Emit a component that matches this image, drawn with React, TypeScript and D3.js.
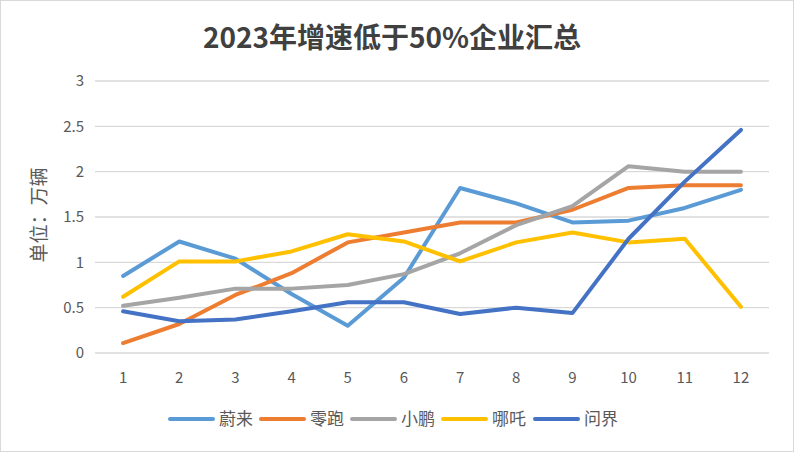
import React from "react";
import * as d3 from "d3";

const months = ["1", "2", "3", "4", "5", "6", "7", "8", "9", "10", "11", "12"];
const nio = [0.85, 1.23, 1.04, 0.65, 0.3, 0.83, 1.82, 1.65, 1.44, 1.46, 1.6, 1.8];
const leap = [0.11, 0.32, 0.64, 0.88, 1.22, 1.33, 1.44, 1.44, 1.58, 1.82, 1.85, 1.85];
const xpeng = [0.52, 0.61, 0.71, 0.71, 0.75, 0.87, 1.1, 1.41, 1.62, 2.06, 2.0, 2.0];
const neta = [0.62, 1.01, 1.01, 1.12, 1.31, 1.23, 1.01, 1.22, 1.33, 1.22, 1.26, 0.51];
const aito = [0.46, 0.35, 0.37, 0.46, 0.56, 0.56, 0.43, 0.5, 0.44, 1.26, 1.89, 2.46];
const seriesNames = ["蔚来", "零跑", "小鹏", "哪吒", "问界"];
const yTicks = [0, 0.5, 1, 1.5, 2, 2.5, 3];
const title = "2023年增速低于50%企业汇总";
const yTitle = "单位：万辆";

const colors = ["#5B9BD5", "#ED7D31", "#A5A5A5", "#FFC000", "#4472C4"];
const allSeries = [nio, leap, xpeng, neta, aito];

export default function App() {
  const W = 794, H = 452;
  const left = 95, right = 769, top = 81, bottom = 353;
  const x = d3.scaleBand().domain(months).range([left, right]);
  const y = d3.scaleLinear().domain([0, 3]).range([bottom, top]);
  const line = d3
    .line<number>()
    .x((_, i) => (x(months[i]) as number) + x.bandwidth() / 2)
    .y((d) => y(d));
  const font = "'Noto Sans CJK SC', 'Noto Sans', sans-serif";
  const legendLineX = [170, 261, 352, 443, 535];
  const legendY = 419;
  return (
    <svg
      width={W}
      height={H}
      style={{ position: "absolute", left: 0, top: 0, display: "block" }}
      fontFamily={font}
    >
      <rect x={0.5} y={0.5} width={W - 1} height={H - 1} fill="#fff" stroke="#d9d9d9" />
      <text x={392} y={48} textAnchor="middle" fontSize={28} fontWeight="bold" fill="#404040">
        {title}
      </text>
      {yTicks.map((t) => (
        <g key={t}>
          <line x1={left} x2={right} y1={y(t)} y2={y(t)} stroke="#d9d9d9" strokeWidth={1.3} />
          <text x={84} y={y(t)} dy="0.35em" textAnchor="end" fontSize={15} fill="#595959">
            {t}
          </text>
        </g>
      ))}
      {months.map((m) => (
        <text
          key={m}
          x={(x(m) as number) + x.bandwidth() / 2}
          y={383}
          textAnchor="middle"
          fontSize={15}
          fill="#595959"
        >
          {m}
        </text>
      ))}
      <text
        transform={`translate(46,215) rotate(-90)`}
        textAnchor="middle"
        fontSize={19}
        fill="#595959"
      >
        {yTitle}
      </text>
      {allSeries.map((s, i) => (
        <path
          key={i}
          d={line(s) || ""}
          fill="none"
          stroke={colors[i]}
          strokeWidth={4}
          strokeLinejoin="round"
          strokeLinecap="round"
        />
      ))}
      {seriesNames.map((n, i) => (
        <g key={n}>
          <line
            x1={legendLineX[i]}
            x2={legendLineX[i] + 43}
            y1={legendY}
            y2={legendY}
            stroke={colors[i]}
            strokeWidth={4}
            strokeLinecap="round"
          />
          <text x={legendLineX[i] + 49} y={legendY} dy="0.35em" fontSize={17} fill="#595959">
            {n}
          </text>
        </g>
      ))}
    </svg>
  );
}
